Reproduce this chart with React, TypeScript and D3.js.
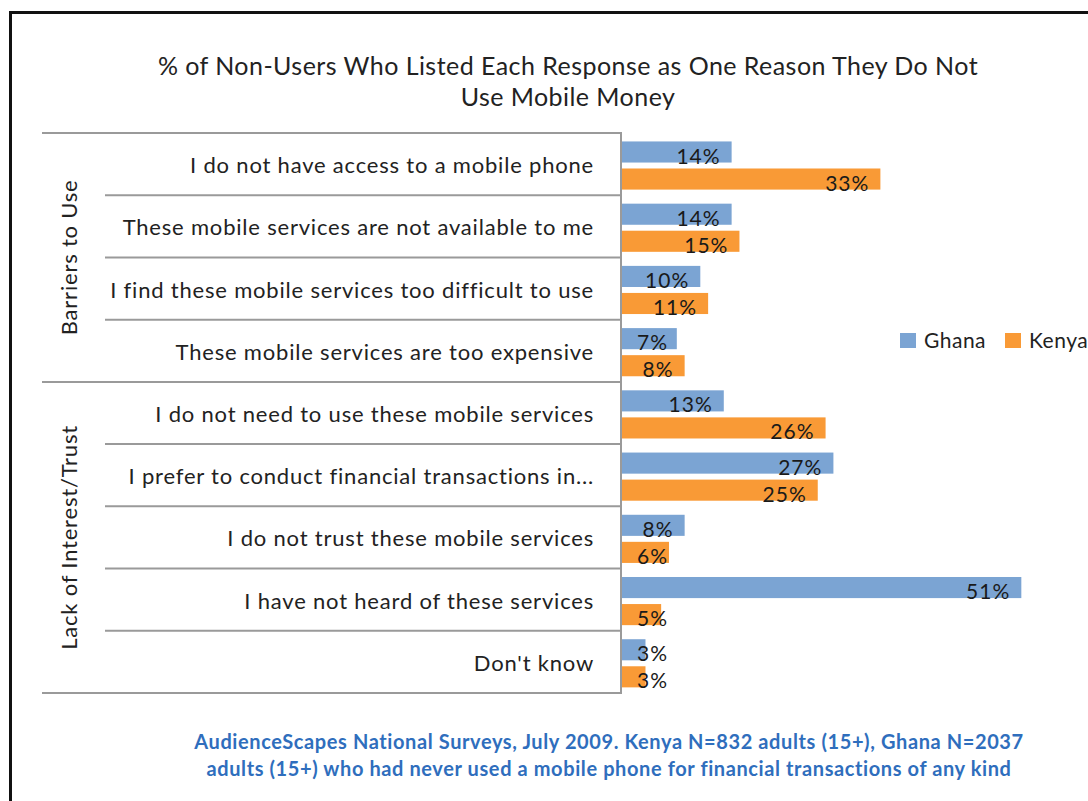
import React from "react";
import * as d3 from "d3";

const categories = [
  "I do not have access to a mobile phone",
  "These mobile services are not available to me",
  "I find these mobile services too difficult to use",
  "These mobile services are too expensive",
  "I do not need to use these mobile services",
  "I prefer to conduct financial transactions in...",
  "I do not trust these mobile services",
  "I have not heard of these services",
  "Don't know",
];
const ghana = [14, 14, 10, 7, 13, 27, 8, 51, 3];
const kenya = [33, 15, 11, 8, 26, 25, 6, 5, 3];
const seriesNames = ["Ghana", "Kenya"];
const groups = [
  { label: "Barriers to Use", from: 0, to: 3 },
  { label: "Lack of Interest/Trust", from: 4, to: 8 },
];
const titleLines = [
  "% of Non-Users Who Listed Each Response as One Reason They Do Not",
  "Use Mobile Money",
];
const footLines = [
  "AudienceScapes National Surveys, July 2009. Kenya N=832 adults (15+), Ghana N=2037",
  "adults (15+) who had never used a mobile phone  for financial transactions of any kind",
];

const W = 1088;
const H = 801;
const font = "Lato, 'Open Sans', sans-serif";
const colors = { Ghana: "#7ba4d3", Kenya: "#f99a36" };

export default function App() {
  const x = d3.scaleLinear().domain([0, 100]).range([622, 622 + 783]);
  const y = d3.scaleBand().domain(categories).range([133, 693]);
  const inner = d3
    .scaleBand()
    .domain(seriesNames)
    .range([0, y.bandwidth()])
    .paddingInner(0.22)
    .paddingOuter(0.26)
    .align(0.6);

  const rows = categories.map((c, i) => ({ c, i, Ghana: ghana[i], Kenya: kenya[i] }));
  const groupEdges = new Set<number>();
  groups.forEach((g) => {
    groupEdges.add(g.from);
    groupEdges.add(g.to + 1);
  });

  return (
    <svg width={W} height={H} style={{ position: "absolute", left: 0, top: 0, background: "#fff" }}>
      {/* outer frame, runs off the right and bottom edges */}
      <rect x={10.5} y={12.5} width={W + 20} height={H + 20} fill="none" stroke="#111" strokeWidth={3} />

      {titleLines.map((t, i) => (
        <text key={t} x={568} y={75 + i * 31} textAnchor="middle" fontFamily={font} fontSize={25} letterSpacing={0.45} fill="#222">
          {t}
        </text>
      ))}

      {/* row separators */}
      {d3.range(categories.length + 1).map((k) => {
        const yy = k < categories.length ? y(categories[k])! : y.range()[1];
        return (
          <line key={k} x1={groupEdges.has(k) ? 42 : 105} x2={621} y1={yy} y2={yy} stroke="#9a9a9a" strokeWidth={2} />
        );
      })}
      <line x1={621} x2={621} y1={132} y2={694} stroke="#9a9a9a" strokeWidth={2} />

      {groups.map((g) => {
        const cy = (y(categories[g.from])! + y(categories[g.to])! + y.bandwidth()) / 2;
        return (
          <text key={g.label} transform={`translate(77,${cy}) rotate(-90)`} textAnchor="middle" fontFamily={font} fontSize={22} letterSpacing={0.8} fill="#222">
            {g.label}
          </text>
        );
      })}

      {rows.map((r) => (
        <g key={r.c}>
          <text x={594} y={y(r.c)! + y.bandwidth() / 2 + 9} textAnchor="end" fontFamily={font} fontSize={22} letterSpacing={0.8} fill="#222">
            {r.c}
          </text>
          {seriesNames.map((s) => {
            const v = r[s as "Ghana" | "Kenya"];
            const top = y(r.c)! + inner(s)!;
            const xe = x(v);
            return (
              <g key={s}>
                <rect x={x(0)} y={top} width={xe - x(0)} height={inner.bandwidth()} fill={colors[s as "Ghana" | "Kenya"]} />
                <text x={Math.max(xe - 11, x(0) + 46)} y={top + inner.bandwidth() + 1} textAnchor="end" fontFamily={font} fontSize={21} letterSpacing={1} fill="#1a1a1a">
                  {v}%
                </text>
              </g>
            );
          })}
        </g>
      ))}

      {/* legend */}
      {seriesNames.map((s, i) => (
        <g key={s} transform={`translate(900,333) translate(${i * 105},0)`}>
          <rect width={16} height={15} fill={colors[s as "Ghana" | "Kenya"]} />
          <text x={24} y={15} fontFamily={font} fontSize={21} letterSpacing={0.5} fill="#222">
            {s}
          </text>
        </g>
      ))}

      {footLines.map((t, i) => (
        <text key={t} x={609} y={749 + i * 27} textAnchor="middle" fontFamily={font} fontWeight="bold" fontSize={20} letterSpacing={0.6} fill="#2f6ebd">
          {t}
        </text>
      ))}
    </svg>
  );
}
